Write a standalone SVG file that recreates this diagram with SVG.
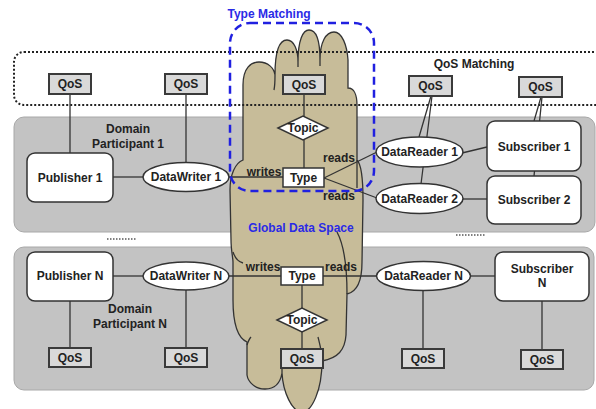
<svg xmlns="http://www.w3.org/2000/svg" width="596" height="409" viewBox="0 0 596 409">
  <defs>
    <style>
      text{font-family:"Liberation Sans",Arial,sans-serif;font-size:12px;font-weight:bold;fill:#222;text-anchor:middle}
      .panel{fill:#c3c3c3;stroke:#a8a8a8;stroke-width:1}
      .qos{fill:#d9d9d9;stroke:#3a3a3a;stroke-width:2}
      .box{fill:#fff;stroke:#333;stroke-width:1.5}
      .conn line{stroke:#333;stroke-width:1.3;fill:none}
      .cloud{fill:#c7bc99;stroke:#333;stroke-width:1.3}
      .tail{fill:none;stroke:#333;stroke-width:1.3}
      .blue{fill:#2a2ae6}
      .sep{stroke:#555;stroke-width:1.5;stroke-dasharray:1.5 1.5}
    </style>
  </defs>
  <rect width="596" height="409" fill="#fff"/>

  <!-- domain participant panels -->
  <rect class="panel" x="14" y="117" width="581" height="115" rx="10"/>
  <rect class="panel" x="14" y="247" width="580" height="143" rx="10"/>
  <line class="sep" x1="107" y1="239" x2="136" y2="239"/>
  <line class="sep" x1="456" y1="235" x2="485" y2="235"/>

  <!-- global data space cloud -->
  <g id="cloud">
    <path class="cloud" d="M243,160 L243,85 C243,68 251,62 259,62 C268,62 274,68 275,75
      C275,50 280,40 287,40 C294,40 298,50 298,62
      C298,40 303,30 309,30 C316,30 320,40 320,60
      C320,42 326,32 334,32 C342,32 347,45 348,60 L348,88
      C354,88 357,95 357,105 L357,160 C362,165 363,180 363,200 L362,262
      C362,283 356,292 347,294 L346,335 C345,350 338,358 322,361
      C322,390 312,412 302,412 C292,412 283,392 282,373
      C280,385 273,389 265,389 C255,389 248,382 247,375 L247,342
      C238,338 233,325 233,300 L233,262 C233,258 231,250 231,240 L230,190
      C230,175 235,163 243,160 Z"/>
    <path class="tail" d="M275,75 C275,80 275,85 274,90"/>
    <path class="tail" d="M298,62 L298,67"/>
    <path class="tail" d="M320,60 L320,66"/>
    <path class="tail" d="M357,160 L357,188"/>
    <path class="tail" d="M337,232 C344,245 347,265 347,294"/>
    <path class="tail" d="M318,337 C320,345 322,352 322,361"/>
    <path class="tail" d="M233,252 C235,258 239,262 243,263"/>
    <path class="tail" d="M247,345 C248,342 249,339 251,337"/>
    <path class="tail" d="M282,358 L282,373"/>
    <text class="blue" x="301" y="232">Global Data Space</text>
  </g>

  <!-- QoS matching region -->
  <rect x="14" y="52" width="600" height="53" rx="10" fill="none" stroke="#222" stroke-width="2" stroke-dasharray="2 2"/>
  <text x="474" y="68">QoS Matching</text>

  <!-- connectors -->
  <g id="connectors" class="conn">
    <line x1="70" y1="94" x2="70" y2="153"/>
    <line x1="186" y1="94" x2="186" y2="163"/>
    <line x1="113" y1="177" x2="143" y2="177"/>
    <line x1="229" y1="177" x2="283" y2="177"/>
    <line x1="304" y1="94" x2="304" y2="168"/>
    <line x1="324" y1="178" x2="377" y2="152"/>
    <line x1="324" y1="178" x2="377" y2="198"/>
    <line x1="431" y1="96" x2="419" y2="137"/>
    <line x1="432" y1="96" x2="421" y2="184"/>
    <line x1="541" y1="97" x2="534" y2="121"/>
    <line x1="542" y1="97" x2="534" y2="176"/>
    <line x1="462" y1="153" x2="487" y2="147"/>
    <line x1="463" y1="199" x2="487" y2="199"/>
    <line x1="70" y1="301" x2="70" y2="348"/>
    <line x1="186" y1="290" x2="186" y2="348"/>
    <line x1="113" y1="276" x2="143" y2="276"/>
    <line x1="229" y1="276" x2="281" y2="276"/>
    <line x1="323" y1="276" x2="376" y2="276"/>
    <line x1="302" y1="285" x2="302" y2="349"/>
    <line x1="423" y1="291" x2="423" y2="349"/>
    <line x1="471" y1="276" x2="495" y2="276"/>
    <line x1="542" y1="301" x2="542" y2="350"/>
  </g>

  <!-- connector labels -->
  <text x="264" y="176">writes</text>
  <text x="339" y="162">reads</text>
  <text x="339" y="200">reads</text>
  <text x="263" y="271">writes</text>
  <text x="341" y="271">reads</text>

  <!-- domain participant 1 -->
  <text x="128" y="133">Domain</text>
  <text x="128" y="148">Participant 1</text>
  <g id="qos-pub1"><rect class="qos" x="49" y="74" width="42" height="20"/><text x="70" y="88">QoS</text></g>
  <g id="qos-dw1"><rect class="qos" x="165" y="74" width="42" height="20"/><text x="186" y="88">QoS</text></g>
  <g id="qos-topic1"><rect class="qos" x="283" y="75" width="42" height="19"/><text x="304" y="89">QoS</text></g>
  <g id="qos-dr"><rect class="qos" x="409" y="76" width="43" height="20"/><text x="430.5" y="90">QoS</text></g>
  <g id="qos-sub"><rect class="qos" x="519" y="77" width="43" height="20"/><text x="540.5" y="91">QoS</text></g>
  <g id="publisher1"><rect class="box" x="27" y="153" width="86" height="49" rx="8"/><text x="70" y="182">Publisher 1</text></g>
  <g id="datawriter1"><ellipse class="box" cx="186" cy="177" rx="43" ry="14.5"/><text x="186" y="181">DataWriter 1</text></g>
  <g id="topic1"><polygon class="box" points="278,128 303,116 328,128 303,140"/><text x="303" y="132">Topic</text></g>
  <g id="type1"><rect class="box" x="283" y="168" width="41" height="19"/><text x="303.5" y="182">Type</text></g>
  <g id="datareader1"><ellipse class="box" cx="419.5" cy="152" rx="43.5" ry="15"/><text x="419.5" y="156">DataReader 1</text></g>
  <g id="datareader2"><ellipse class="box" cx="419.5" cy="198.5" rx="43.5" ry="15"/><text x="419.5" y="202.5">DataReader 2</text></g>
  <g id="subscriber1"><rect class="box" x="487" y="121" width="94" height="50" rx="8"/><text x="534" y="151">Subscriber 1</text></g>
  <g id="subscriber2"><rect class="box" x="487" y="176" width="94" height="48" rx="8"/><text x="534" y="204">Subscriber 2</text></g>

  <!-- domain participant N -->
  <text x="130" y="313">Domain</text>
  <text x="130" y="328">Participant N</text>
  <g id="publisherN"><rect class="box" x="27" y="252" width="86" height="49" rx="8"/><text x="70" y="280">Publisher N</text></g>
  <g id="datawriterN"><ellipse class="box" cx="186" cy="276" rx="43" ry="14"/><text x="186" y="280">DataWriter N</text></g>
  <g id="typeN"><rect class="box" x="281" y="267" width="42" height="18"/><text x="302" y="280">Type</text></g>
  <g id="topicN"><polygon class="box" points="277,320 302,308 327,320 302,332"/><text x="302" y="324">Topic</text></g>
  <g id="qos-topicN"><rect class="qos" x="281" y="349" width="42" height="19"/><text x="302" y="363">QoS</text></g>
  <g id="datareaderN"><ellipse class="box" cx="423.5" cy="276" rx="47" ry="14.5"/><text x="423.5" y="280">DataReader N</text></g>
  <g id="subscriberN"><rect class="box" x="495" y="252" width="94" height="49" rx="8"/><text x="542" y="273">Subscriber</text><text x="542" y="287">N</text></g>
  <g id="qos-pubN"><rect class="qos" x="49" y="348" width="42" height="19"/><text x="70" y="362">QoS</text></g>
  <g id="qos-dwN"><rect class="qos" x="165" y="348" width="42" height="19"/><text x="186" y="362">QoS</text></g>
  <g id="qos-drN"><rect class="qos" x="402" y="349" width="42" height="19"/><text x="423" y="363">QoS</text></g>
  <g id="qos-subN"><rect class="qos" x="521" y="350" width="42" height="19"/><text x="542" y="364">QoS</text></g>

  <!-- type matching region -->
  <rect x="230" y="23" width="144" height="168" rx="20" fill="none" stroke="#2020e0" stroke-width="2.5" stroke-dasharray="8 5"/>
  <text class="blue" x="269" y="18">Type Matching</text>
</svg>
